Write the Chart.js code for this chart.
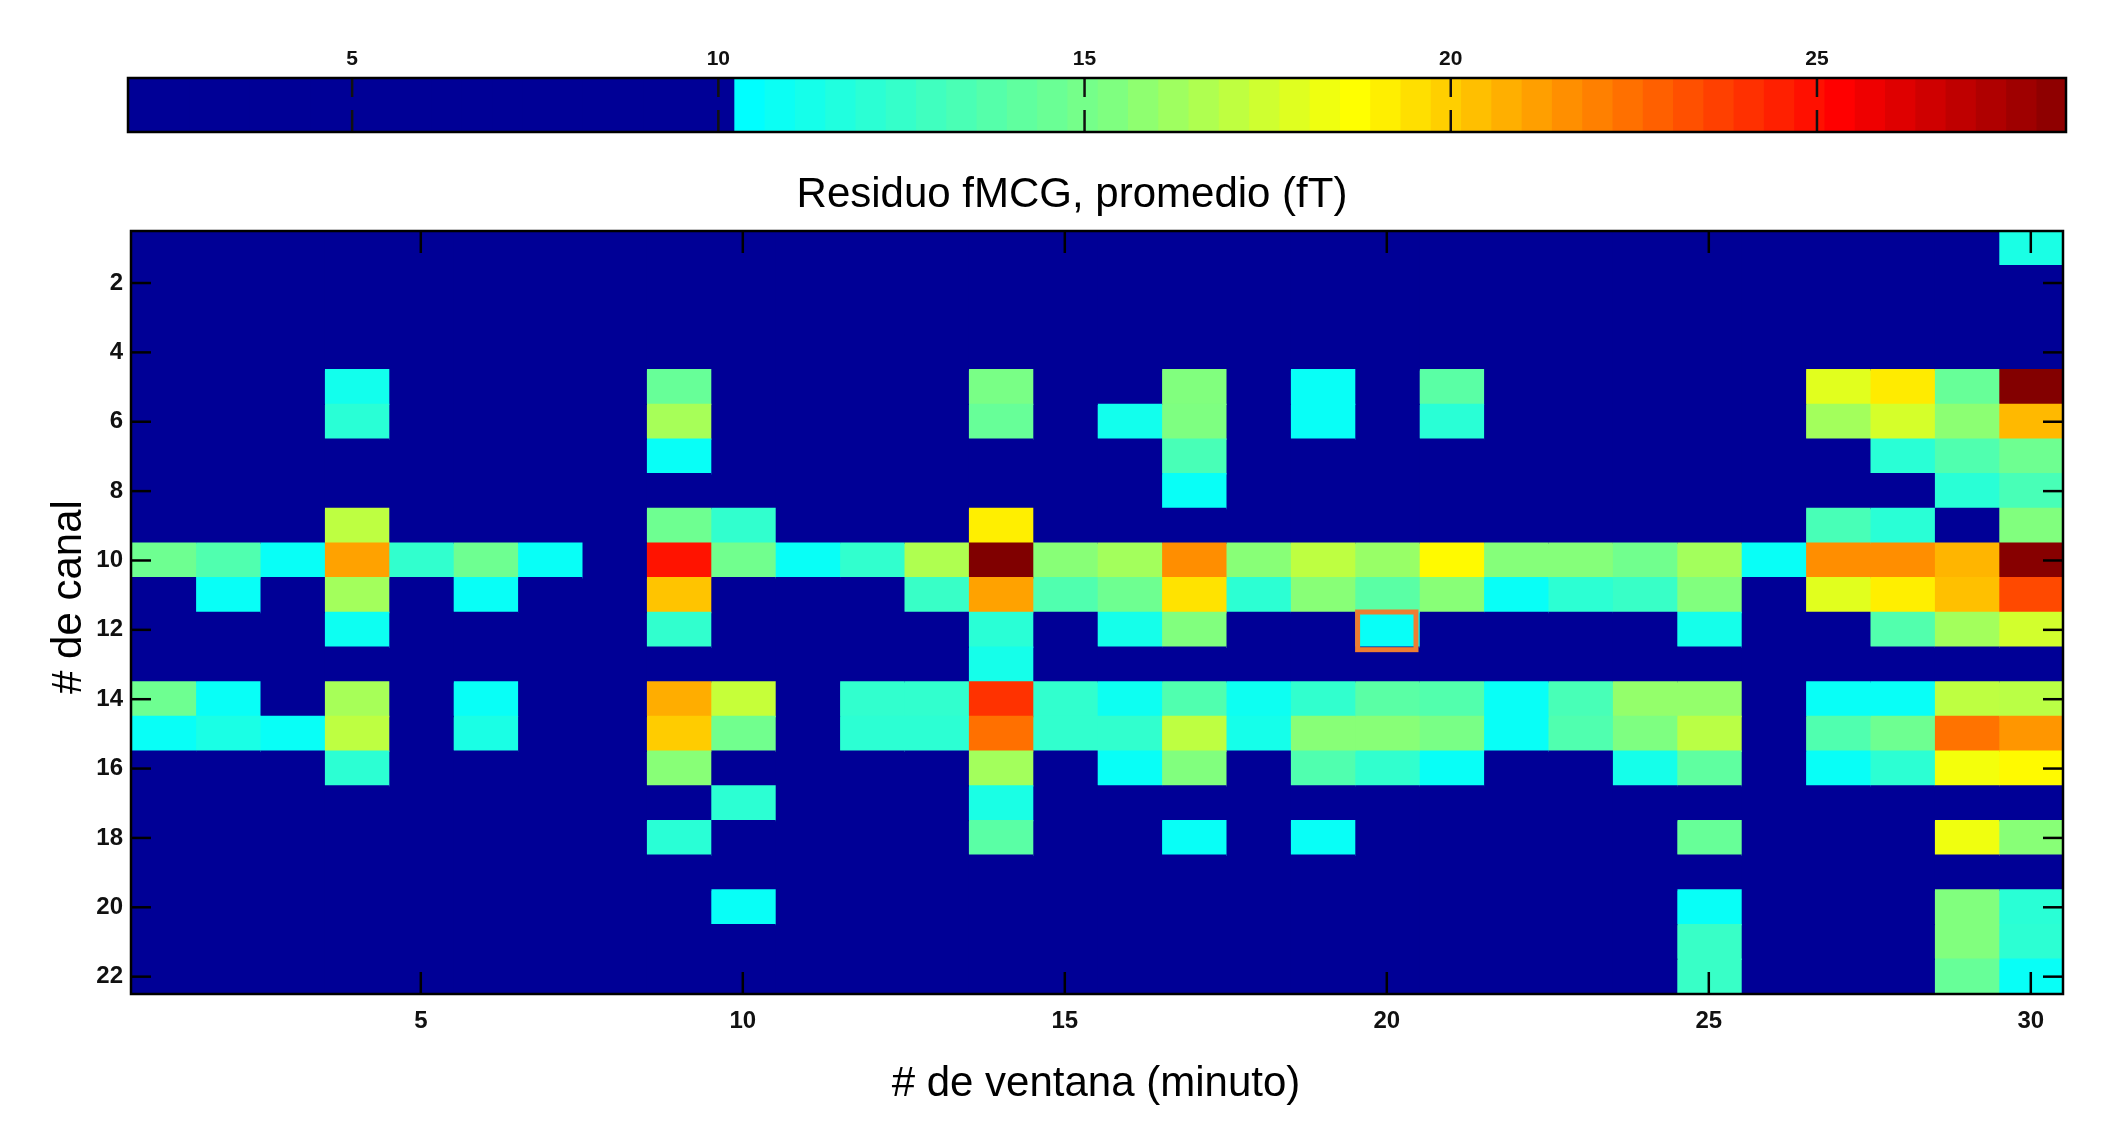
<!DOCTYPE html>
<html>
<head>
<meta charset="utf-8">
<script src="https://cdn.jsdelivr.net/npm/chart.js@4.4.1/dist/chart.umd.min.js"></script>
<style>
  html, body { margin: 0; padding: 0; background: #fff; }
  #wrap { position: relative; width: 2125px; height: 1127px; }
  canvas { position: absolute; left: 0; top: 0; }
</style>
</head>
<body>
<div id="wrap">
  <canvas id="main" width="2125" height="1127"></canvas>
  <canvas id="cbar" width="2125" height="140"></canvas>
</div>
<script>
// ---------------- DATA ----------------
const windows = Array.from({length: 30}, (_, i) => i + 1);     // # de ventana (minuto)
const channels = Array.from({length: 22}, (_, i) => i + 1);    // # de canal
const windowTicks = [5, 10, 15, 20, 25, 30];
const channelTicks = [2, 4, 6, 8, 10, 12, 14, 16, 18, 20, 22];
const colorbarTicks = [5, 10, 15, 20, 25];
const colorMin = 1.94;
const colorMax = 28.4;
const threshold = 10.2;            // below this value cells are drawn dark blue
const cyanToGreen = [10.2, 15.17]; // colour-map knee: cyan at 10.2, light green at 15.17
const highlight = {window: 20, channel: 12};

// Residuo fMCG promedio (fT): one row per channel, one value per window (5 = below threshold)
const residuo = [
/* 1*/ [5,5,5,5,5,5,5,5,5,5, 5,5,5,5,5,5,5,5,5,5, 5,5,5,5,5,5,5,5,5,11.2],
/* 2*/ [5,5,5,5,5,5,5,5,5,5, 5,5,5,5,5,5,5,5,5,5, 5,5,5,5,5,5,5,5,5,5],
/* 3*/ [5,5,5,5,5,5,5,5,5,5, 5,5,5,5,5,5,5,5,5,5, 5,5,5,5,5,5,5,5,5,5],
/* 4*/ [5,5,5,5,5,5,5,5,5,5, 5,5,5,5,5,5,5,5,5,5, 5,5,5,5,5,5,5,5,5,5],
/* 5*/ [5,5,5,10.9,5,5,5,5,14.2,5, 5,5,5,14.9,5,5,15.2,5,10.5,5, 13.7,5,5,5,5,5,17.7,19,14.2,28.3],
/* 6*/ [5,5,5,11.8,5,5,5,5,16.2,5, 5,5,5,14.2,5,10.9,15.1,5,10.5,5, 11.8,5,5,5,5,5,16.1,17.4,15.5,20.3],
/* 7*/ [5,5,5,5,5,5,5,5,10.5,5, 5,5,5,5,5,5,13.0,5,5,5, 5,5,5,5,5,5,5,11.8,13.3,14.5],
/* 8*/ [5,5,5,5,5,5,5,5,5,5, 5,5,5,5,5,5,10.5,5,5,5, 5,5,5,5,5,5,5,5,11.8,13.0],
/* 9*/ [5,5,5,16.8,5,5,5,5,14.5,12.1, 5,5,5,18.9,5,5,5,5,5,5, 5,5,5,5,5,5,13.0,11.8,5,15.2],
/*10*/ [14.5,13.3,10.5,20.9,12.1,14.5,10.5,5,24.6,14.6, 10.5,12.1,16.4,28.4,15.4,16.1,21.4,15.4,16.8,15.8, 18.6,15.3,15.3,14.6,16.1,10.5,21.4,21.4,20.4,28.2],
/*11*/ [5,10.5,5,16.1,5,10.5,5,5,20,5, 5,5,12.4,20.9,13.3,14.5,19.2,11.9,15.4,13.7, 15.4,10.5,11.9,12.4,15.2,5,17.7,18.9,20.1,23.2],
/*12*/ [5,5,5,10.7,5,5,5,5,12.1,5, 5,5,5,11.8,5,11.0,15.2,5,5,10.5, 5,5,5,5,11.0,5,5,13.4,16.1,17.3],
/*13*/ [5,5,5,5,5,5,5,5,5,5, 5,5,5,11.0,5,5,5,5,5,5, 5,5,5,5,5,5,5,5,5,5],
/*14*/ [14.5,10.5,5,16.2,5,10.5,5,5,20.6,17, 5,12.1,12.1,23.8,12.1,10.7,13.3,10.7,12.1,13.7, 13.4,10.5,13.0,15.7,15.7,5,10.5,10.5,16.8,16.7],
/*15*/ [10.5,11.2,10.5,16.8,5,11.2,5,5,19.8,14.6, 5,11.9,11.9,22.2,12.1,12.1,16.8,11.0,15.4,15.4, 14.9,10.5,13.3,15.1,16.7,5,13.3,14.5,22.1,21.2],
/*16*/ [5,5,5,11.9,5,5,5,5,15.4,5, 5,5,5,16.1,5,10.5,15.2,5,13.3,12.1, 10.5,5,5,11.0,13.9,5,10.5,11.9,18.2,18.6],
/*17*/ [5,5,5,5,5,5,5,5,5,11.9, 5,5,5,11.2,5,5,5,5,5,5, 5,5,5,5,5,5,5,5,5,5],
/*18*/ [5,5,5,5,5,5,5,5,11.8,5, 5,5,5,13.7,5,5,10.5,5,10.5,5, 5,5,5,5,14.2,5,5,5,18.1,15.4],
/*19*/ [5,5,5,5,5,5,5,5,5,5, 5,5,5,5,5,5,5,5,5,5, 5,5,5,5,5,5,5,5,5,5],
/*20*/ [5,5,5,5,5,5,5,5,5,10.5, 5,5,5,5,5,5,5,5,5,5, 5,5,5,5,10.5,5,5,5,15.2,11.8],
/*21*/ [5,5,5,5,5,5,5,5,5,5, 5,5,5,5,5,5,5,5,5,5, 5,5,5,5,12.4,5,5,5,15.2,11.9],
/*22*/ [5,5,5,5,5,5,5,5,5,5, 5,5,5,5,5,5,5,5,5,5, 5,5,5,5,12.4,5,5,5,14.2,10.5]
];

// ---------------- COLOUR MAP (thresholded jet) ----------------
const DARK = 'rgb(0,0,150)';
function clamp01(v) { return Math.max(0, Math.min(1, v)); }
function jet(t) {
  const r = clamp01(Math.min(4 * t - 1.5, -4 * t + 4.5));
  const g = clamp01(Math.min(4 * t - 0.5, -4 * t + 3.5));
  const b = clamp01(Math.min(4 * t + 0.5, -4 * t + 2.5));
  return `rgb(${Math.round(r * 255)},${Math.round(g * 255)},${Math.round(b * 255)})`;
}
function valueToT(v) {
  if (v <= cyanToGreen[1]) {
    return 0.375 + (v - cyanToGreen[0]) / (cyanToGreen[1] - cyanToGreen[0]) * 0.125;
  }
  return (v - colorMin) / (colorMax - colorMin);
}
function colorFor(v) {
  if (v < threshold) return DARK;
  return jet(Math.max(0.375, Math.min(1, valueToT(v))));
}

const FONT = '"Liberation Sans", Arial, Helvetica, sans-serif';

// ---------------- HEATMAP ----------------
const heatDatasets = windows.map((w, ci) => ({
  label: 'ventana ' + w,
  data: channels.map(() => [w - 0.5, w + 0.5]),
  backgroundColor: channels.map((c, ri) => colorFor(residuo[ri][ci])),
  borderWidth: 0,
  inflateAmount: 0.7,
  grouped: false,
  barPercentage: 1,
  categoryPercentage: 1
}));

function line(ctx, x1, y1, x2, y2) {
  ctx.beginPath(); ctx.moveTo(x1, y1); ctx.lineTo(x2, y2); ctx.stroke();
}

const decorPlugin = {
  id: 'decor',
  afterDatasetsDraw(chart) {
    const {ctx, chartArea: a, scales: {x, y}} = chart;
    ctx.save();
    ctx.strokeStyle = '#000';
    ctx.lineWidth = 2.5;
    windowTicks.forEach(v => {
      const px = x.getPixelForValue(v);
      line(ctx, px, a.top, px, a.top + 22);
      line(ctx, px, a.bottom, px, a.bottom - 22);
    });
    channelTicks.forEach(c => {
      const py = y.getPixelForValue(channels.indexOf(c));
      line(ctx, a.left, py, a.left + 20, py);
      line(ctx, a.right, py, a.right - 20, py);
    });
    // highlighted cell
    const rowH = y.getPixelForValue(1) - y.getPixelForValue(0);
    const cy = y.getPixelForValue(channels.indexOf(highlight.channel));
    const x0 = x.getPixelForValue(highlight.window - 0.5);
    const x1 = x.getPixelForValue(highlight.window + 0.5);
    ctx.strokeStyle = 'rgb(237,125,49)';
    ctx.lineWidth = 5;
    ctx.strokeRect(x0 + 3, cy - rowH / 2 - 0.5, (x1 - x0) - 6, rowH + 3);
    // frame
    ctx.strokeStyle = '#000';
    ctx.lineWidth = 2.5;
    ctx.strokeRect(a.left, a.top, a.width, a.height);
    ctx.restore();
  },
  afterDraw(chart) {
    const {ctx} = chart;
    ctx.save();
    ctx.fillStyle = '#000';
    ctx.font = '42px ' + FONT;
    ctx.textAlign = 'center';
    ctx.textBaseline = 'alphabetic';
    ctx.fillText('Residuo fMCG, promedio (fT)', 1072, 207);
    ctx.fillText('# de ventana (minuto)', 1096, 1096);
    ctx.translate(81, 597);
    ctx.rotate(-Math.PI / 2);
    ctx.fillText('# de canal', 0, 0);
    ctx.restore();
  }
};

new Chart(document.getElementById('main'), {
  type: 'bar',
  data: { labels: channels.map(String), datasets: heatDatasets },
  options: {
    indexAxis: 'y',
    responsive: false,
    devicePixelRatio: 1,
    animation: false,
    layout: { padding: { left: 0, right: 62, top: 231, bottom: 73 } },
    plugins: { legend: { display: false }, tooltip: { enabled: false }, title: { display: false } },
    scales: {
      x: {
        type: 'linear', position: 'bottom', min: 0.5, max: 30.5,
        afterBuildTicks: s => { s.ticks = windowTicks.map(v => ({value: v})); },
        afterFit: s => { s.height = 60; },
        grid: { display: false, drawTicks: false },
        border: { display: false },
        ticks: { color: '#111', font: { family: FONT, size: 24, weight: 'bold' }, padding: 13, maxRotation: 0 }
      },
      y: {
        type: 'category', position: 'left',
        afterFit: s => { s.width = 131; },
        grid: { display: false, drawTicks: false },
        border: { display: false },
        ticks: {
          autoSkip: false, color: '#111', padding: 8,
          font: { family: FONT, size: 24, weight: 'bold' },
          callback: (val, idx) => channelTicks.includes(channels[idx]) ? String(channels[idx]) : ''
        }
      }
    }
  },
  plugins: [decorPlugin]
});

// ---------------- COLOUR BAR ----------------
const levels = 64;
const step = (colorMax - colorMin) / levels;
const cbarDatasets = Array.from({length: levels}, (_, i) => {
  const s = colorMin + i * step, e = s + step;
  const col = e <= threshold + 0.01 ? DARK : colorFor(Math.max(threshold, (s + e) / 2 - step / 2));
  return { data: [[s, e]], backgroundColor: col, borderWidth: 0, inflateAmount: 0.7, grouped: false,
           barPercentage: 1, categoryPercentage: 1 };
});

const cbarPlugin = {
  id: 'cbarDecor',
  afterDatasetsDraw(chart) {
    const {ctx, chartArea: a, scales: {x}} = chart;
    ctx.save();
    ctx.strokeStyle = '#111';
    ctx.lineWidth = 2.5;
    colorbarTicks.forEach(v => {
      const px = x.getPixelForValue(v);
      line(ctx, px, a.top, px, a.top + 19);
      line(ctx, px, a.bottom, px, a.bottom - 22);
    });
    ctx.strokeStyle = '#000';
    ctx.lineWidth = 2.5;
    ctx.strokeRect(a.left, a.top, a.width, a.height);
    ctx.restore();
  }
};

new Chart(document.getElementById('cbar'), {
  type: 'bar',
  data: { labels: ['fT'], datasets: cbarDatasets },
  options: {
    indexAxis: 'y',
    responsive: false,
    devicePixelRatio: 1,
    animation: false,
    layout: { padding: { left: 128, right: 59, top: 0, bottom: 8 } },
    plugins: { legend: { display: false }, tooltip: { enabled: false } },
    scales: {
      x: {
        type: 'linear', position: 'top', min: colorMin, max: colorMax,
        afterBuildTicks: s => { s.ticks = colorbarTicks.map(v => ({value: v})); },
        afterFit: s => { s.height = 78; },
        grid: { display: false, drawTicks: false },
        border: { display: false },
        ticks: { color: '#111', font: { family: FONT, size: 21, weight: 'bold' }, padding: 6, maxRotation: 0 }
      },
      y: { display: false }
    }
  },
  plugins: [cbarPlugin]
});
</script>
</body>
</html>
